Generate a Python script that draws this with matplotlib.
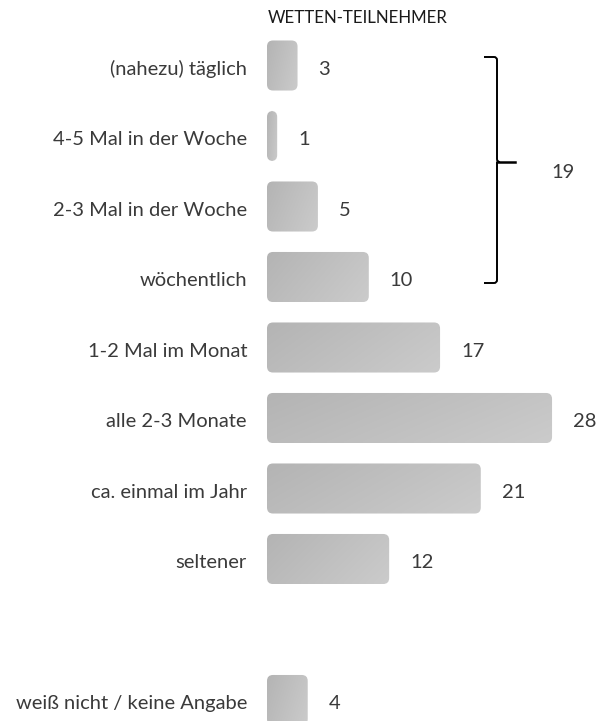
import numpy as np
import matplotlib.pyplot as plt
from matplotlib.colors import LinearSegmentedColormap
from matplotlib.patches import FancyBboxPatch, PathPatch
from matplotlib.path import Path

plt.rcParams['font.family'] = ['Lato', 'DejaVu Sans']

# data
categories = ['(nahezu) täglich', '4-5 Mal in der Woche', '2-3 Mal in der Woche',
              'wöchentlich', '1-2 Mal im Monat', 'alle 2-3 Monate',
              'ca. einmal im Jahr', 'seltener', 'weiß nicht / keine Angabe']
values = [3, 1, 5, 10, 17, 28, 21, 12, 4]
slots = [0, 1, 2, 3, 4, 5, 6, 7, 9]
group_total = 19
title = 'WETTEN-TEILNEHMER'

W, H = 599, 721
px_x = 10.18   # pixels per unit
px_y = 70.5    # pixels per slot
x0_px, y0_px = 267, 65.5

fig = plt.figure(figsize=(W / 100, H / 100), dpi=100)
ax = fig.add_axes([0, 0, 1, 1])
ax.set_xlim(-x0_px / px_x, (W - x0_px) / px_x)
ax.set_ylim((H - y0_px) / px_y, -y0_px / px_y)
ax.axis('off')

txt = '#3a3a3a'
fs = 14.5
bh = 0.71
r_x = 6 / px_x
aspect = (6 / px_y) / r_x
grad = np.linspace(0, 1, 64)[None, :] + np.linspace(0, 0.4, 16)[:, None]
cmap = LinearSegmentedColormap.from_list('g', ['#b4b4b4', '#cbcbcb'])

for cat, v, s in zip(categories, values, slots):
    patch = FancyBboxPatch((0, s - bh / 2), v, bh,
                           boxstyle=f'round,pad=0,rounding_size={r_x}',
                           mutation_aspect=aspect, facecolor='none',
                           edgecolor='none')
    ax.add_patch(patch)
    im = ax.imshow(grad, cmap=cmap, vmin=0, vmax=1.4, aspect='auto',
                   extent=(0, v, s + bh / 2, s - bh / 2),
                   interpolation='bilinear', zorder=2)
    im.set_clip_path(patch)
    ax.text(-20 / px_x, s + 0.05, cat, ha='right', va='center', fontsize=fs, color=txt)
    ax.text(v + 21 / px_x, s + 0.05, str(v), ha='left', va='center', fontsize=fs, color=txt)

ax.text(1 / px_x, (18 - y0_px) / px_y, title, ha='left', va='center',
        fontsize=12.2, color='#1a1a1a')

# brace
xl, xm, xt = (484 - x0_px) / px_x, (497 - x0_px) / px_x, (515 - x0_px) / px_x
yt, ym, yb = (57 - y0_px) / px_y, (162 - y0_px) / px_y, (283 - y0_px) / px_y
cx = 3 / px_x
cy = 3 / px_y
verts = [(xl, yt), (xm - cx, yt), (xm, yt), (xm, yt + cy),
         (xm, ym - cy), (xm, ym), (xm + cx, ym),
         (xm, ym), (xm, ym + cy),
         (xm, yb - cy), (xm, yb), (xm - cx, yb), (xl, yb)]
codes = [Path.MOVETO, Path.LINETO, Path.CURVE3, Path.CURVE3,
         Path.LINETO, Path.CURVE3, Path.CURVE3,
         Path.MOVETO, Path.LINETO,
         Path.LINETO, Path.CURVE3, Path.CURVE3, Path.LINETO]
ax.add_patch(PathPatch(Path(verts, codes), facecolor='none', edgecolor='black', lw=1.4))
ax.plot([xm, xt], [ym, ym], color='black', lw=1.8)
ax.text((563 - x0_px) / px_x, (172 - y0_px) / px_y, str(group_total),
        ha='center', va='center', fontsize=fs, color=txt)

fig.savefig('out.png', dpi=100)
